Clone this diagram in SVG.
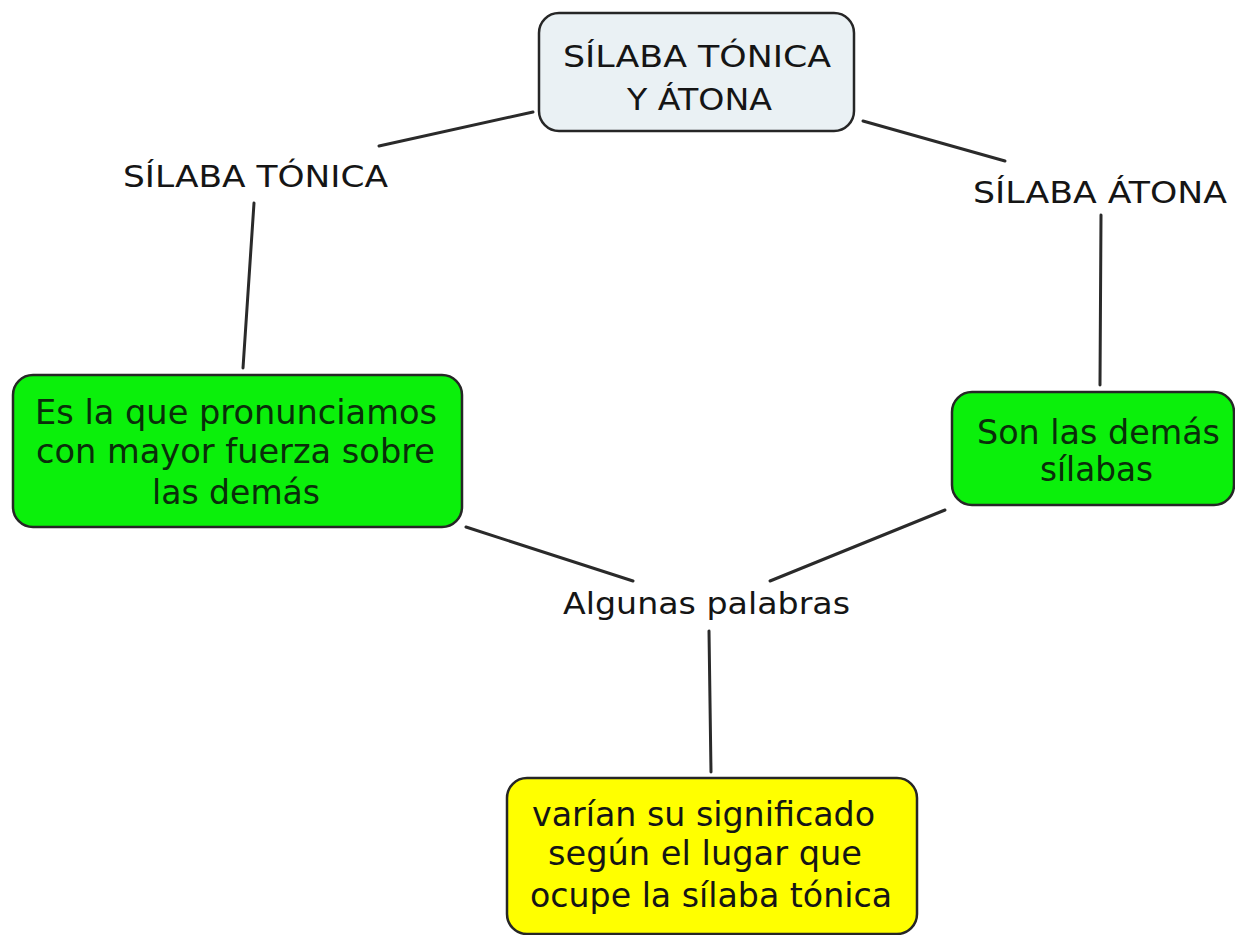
<svg xmlns="http://www.w3.org/2000/svg" width="1235" height="935" viewBox="0 0 1235 935">
<style>
text{font-family:"DejaVu Sans","Liberation Sans",sans-serif;font-size:31px;fill:#151515}
.g text,.y text{font-size:33px}
.box{stroke:#262626;stroke-width:2.5}
.main{fill:#eaf1f4}
.green{fill:#0bf00b}
.yellow{fill:#ffff00}
.g text{fill:#0a2e0a}
.conn line{stroke:#2a2a2a;stroke-width:3;stroke-linecap:round}
</style>
<rect width="1235" height="935" fill="#ffffff"/>
<g id="connectors" class="conn">
<line x1="379" y1="146" x2="533" y2="112"/>
<line x1="863" y1="121" x2="1005" y2="161"/>
<line x1="254" y1="203" x2="243" y2="368"/>
<line x1="1101" y1="215" x2="1100" y2="385"/>
<line x1="466" y1="527" x2="633" y2="581"/>
<line x1="945" y1="510" x2="770" y2="581"/>
<line x1="709" y1="631" x2="711" y2="772"/>
</g>
<g id="node-main">
<rect class="box main" x="539" y="13" width="315" height="118" rx="20"/>
<text x="563" y="67" textLength="268" lengthAdjust="spacingAndGlyphs">SÍLABA TÓNICA</text>
<text x="627" y="110" textLength="145" lengthAdjust="spacingAndGlyphs">Y ÁTONA</text>
</g>
<g id="node-tonica">
<text x="123" y="187" textLength="265" lengthAdjust="spacingAndGlyphs">SÍLABA TÓNICA</text>
</g>
<g id="node-atona">
<text x="973" y="203" textLength="254" lengthAdjust="spacingAndGlyphs">SÍLABA ÁTONA</text>
</g>
<g id="node-def-tonica" class="g">
<rect class="box green" x="13" y="375" width="449" height="152" rx="20"/>
<text x="35" y="424" textLength="402" lengthAdjust="spacingAndGlyphs">Es la que pronunciamos</text>
<text x="36" y="463" textLength="399" lengthAdjust="spacingAndGlyphs">con mayor fuerza sobre</text>
<text x="152" y="504" textLength="168" lengthAdjust="spacingAndGlyphs">las demás</text>
</g>
<g id="node-def-atona" class="g">
<rect class="box green" x="952" y="392" width="282" height="113" rx="20"/>
<text x="977" y="444" textLength="243" lengthAdjust="spacingAndGlyphs">Son las demás</text>
<text x="1040" y="481" textLength="113" lengthAdjust="spacingAndGlyphs">sílabas</text>
</g>
<g id="node-algunas">
<text x="563" y="614" textLength="287" lengthAdjust="spacingAndGlyphs">Algunas palabras</text>
</g>
<g id="node-varian" class="y">
<rect class="box yellow" x="507" y="778" width="410" height="156" rx="20"/>
<text x="532" y="826" textLength="343" lengthAdjust="spacingAndGlyphs">varían su significado</text>
<text x="548" y="865" textLength="314" lengthAdjust="spacingAndGlyphs">según el lugar que</text>
<text x="530" y="907" textLength="362" lengthAdjust="spacingAndGlyphs">ocupe la sílaba tónica</text>
</g>
</svg>
